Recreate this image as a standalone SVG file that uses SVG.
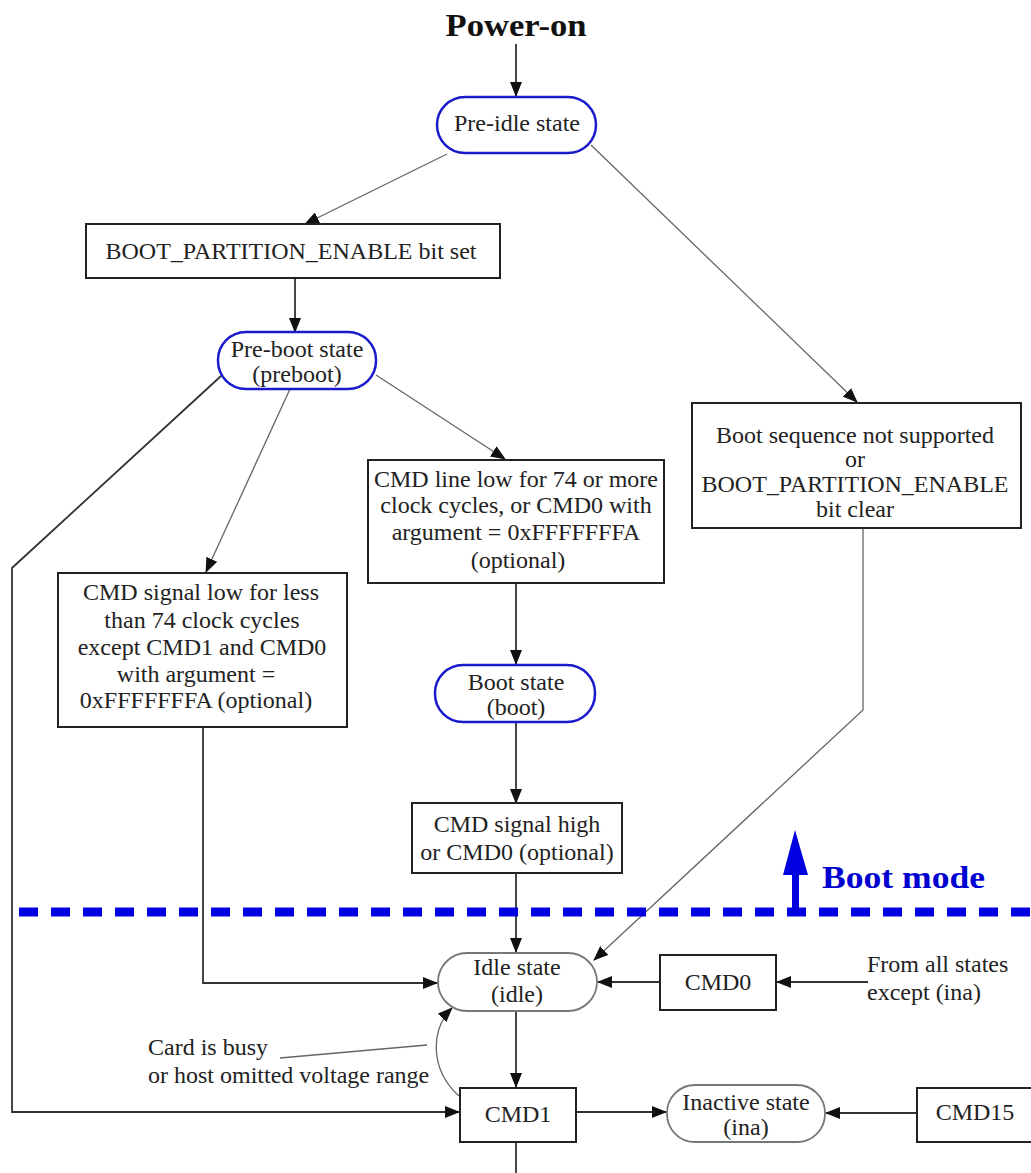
<svg xmlns="http://www.w3.org/2000/svg" width="1031" height="1173" viewBox="0 0 1031 1173">
<defs>
<marker id="ah" markerWidth="15" markerHeight="12" refX="14" refY="6" orient="auto" markerUnits="userSpaceOnUse">
<path d="M0,0 L15,6 L0,12 Z" fill="#111"/>
</marker>
<style>
.t{font-family:"Liberation Serif","Times New Roman",serif;font-size:24px;fill:#222;text-anchor:middle}
.tl{font-family:"Liberation Serif","Times New Roman",serif;font-size:24px;fill:#222}
.box{fill:#fff;stroke:#222;stroke-width:2}
.st{fill:#fff;stroke:#1a1acc;stroke-width:2.5}
.sg{fill:#fff;stroke:#777;stroke-width:1.8}
.c{fill:none;stroke:#333;stroke-width:1.8}
.thin{fill:none;stroke:#666;stroke-width:1.3}
</style>
</defs>
<rect width="1031" height="1173" fill="#fff"/>
<text x="516" y="36" textLength="141" lengthAdjust="spacingAndGlyphs" style="font-family:'Liberation Serif',serif;font-size:32px;font-weight:bold;fill:#111;text-anchor:middle">Power-on</text>

<g id="connectors">
<line class="c" x1="516" y1="44" x2="516" y2="96" marker-end="url(#ah)"/>
<line class="thin" x1="447" y1="154" x2="305" y2="224" marker-end="url(#ah)"/>
<line class="c" x1="295" y1="278" x2="295" y2="332" marker-end="url(#ah)"/>
<line class="thin" x1="591" y1="145" x2="857" y2="402" marker-end="url(#ah)"/>
<polyline class="c" points="221,376 12,568 12,1112 459,1112" marker-end="url(#ah)"/>
<line class="thin" x1="290" y1="389" x2="206" y2="572" marker-end="url(#ah)"/>
<line class="thin" x1="376" y1="375" x2="505" y2="459" marker-end="url(#ah)"/>
<line class="c" x1="516" y1="583" x2="516" y2="664" marker-end="url(#ah)"/>
<line class="c" x1="516" y1="722" x2="516" y2="803" marker-end="url(#ah)"/>
<line class="c" x1="516" y1="873" x2="516" y2="952" marker-end="url(#ah)"/>
<polyline class="thin" points="863,528 863,710 594,960" marker-end="url(#ah)"/>
<polyline class="c" points="203,727 203,983 437,983" marker-end="url(#ah)"/>
<line class="c" x1="660" y1="982" x2="598" y2="982" marker-end="url(#ah)"/>
<line class="c" x1="868" y1="982" x2="777" y2="982" marker-end="url(#ah)"/>
<line class="c" x1="516" y1="1011" x2="516" y2="1087" marker-end="url(#ah)"/>
<path class="thin" d="M459,1096 C430,1070 430,1030 452,1008" marker-end="url(#ah)"/>
<line class="thin" x1="280" y1="1058" x2="427" y2="1045"/>
<line class="c" x1="576" y1="1112" x2="666" y2="1112" marker-end="url(#ah)"/>
<line class="c" x1="917" y1="1113" x2="826" y2="1113" marker-end="url(#ah)"/>
<line class="c" x1="516" y1="1142" x2="516" y2="1173"/>
</g>

<g id="boot-mode">
<line x1="12" y1="912" x2="1031" y2="912" stroke="#0000e0" stroke-width="9" stroke-dasharray="19,13" stroke-dashoffset="-7"/>
<rect x="792" y="872" width="7" height="40" fill="#0000e0"/>
<path d="M783,875 L795,830 L808,875 Z" fill="#0000e0"/>
<text x="822" y="888" textLength="163" lengthAdjust="spacingAndGlyphs" style="font-family:'Liberation Serif',serif;font-size:32px;font-weight:bold;fill:#0000d0">Boot mode</text>
</g>

<g id="pre-idle">
<rect class="st" x="437" y="97" width="159" height="56" rx="28"/>
<text class="t" x="517" y="131">Pre-idle state</text>
</g>
<g id="bpe-set">
<rect class="box" x="86" y="224" width="414" height="54"/>
<text class="t" x="291" y="259">BOOT_PARTITION_ENABLE bit set</text>
</g>
<g id="pre-boot">
<rect class="st" x="218" y="332" width="158" height="57" rx="28"/>
<text class="t" x="297" y="357">Pre-boot state</text>
<text class="t" x="297" y="382">(preboot)</text>
</g>
<g id="boot-not-supported">
<rect class="box" x="692" y="403" width="329" height="125"/>
<text class="t" x="855" y="443">Boot sequence not supported</text>
<text class="t" x="855" y="467">or</text>
<text class="t" x="855" y="492">BOOT_PARTITION_ENABLE</text>
<text class="t" x="855" y="517">bit clear</text>
</g>
<g id="cmd-line-low">
<rect class="box" x="368" y="460" width="296" height="123"/>
<text class="t" x="516" y="487">CMD line low for 74 or more</text>
<text class="t" x="516" y="513">clock cycles, or CMD0 with</text>
<text class="t" x="516" y="540">argument = 0xFFFFFFFA</text>
<text class="t" x="518" y="568">(optional)</text>
</g>
<g id="cmd-signal-low">
<rect class="box" x="58" y="573" width="289" height="154"/>
<text class="t" x="201" y="600">CMD signal low for less</text>
<text class="t" x="202" y="628">than 74 clock cycles</text>
<text class="t" x="202" y="655">except CMD1 and CMD0</text>
<text class="t" x="196" y="682">with argument =</text>
<text class="t" x="196" y="708">0xFFFFFFFA (optional)</text>
</g>
<g id="boot-state">
<rect class="st" x="435" y="665" width="160" height="57" rx="28"/>
<text class="t" x="516" y="690">Boot state</text>
<text class="t" x="516" y="715">(boot)</text>
</g>
<g id="cmd-signal-high">
<rect class="box" x="412" y="803" width="210" height="70"/>
<text class="t" x="517" y="832">CMD signal high</text>
<text class="t" x="517" y="860">or CMD0 (optional)</text>
</g>
<g id="idle-state">
<rect class="sg" x="438" y="953" width="159" height="58" rx="29"/>
<text class="t" x="517" y="975">Idle state</text>
<text class="t" x="517" y="1002">(idle)</text>
</g>
<g id="cmd0">
<rect class="box" x="660" y="955" width="116" height="55"/>
<text class="t" x="718" y="990">CMD0</text>
</g>
<text class="tl" x="867" y="972">From all states</text>
<text class="tl" x="867" y="1000">except (ina)</text>
<text class="tl" x="148" y="1055">Card is busy</text>
<text class="tl" x="148" y="1083">or host omitted voltage range</text>
<g id="cmd1">
<rect class="box" x="460" y="1088" width="116" height="54"/>
<text class="t" x="518" y="1122">CMD1</text>
</g>
<g id="inactive-state">
<rect class="sg" x="667" y="1085" width="158" height="57" rx="28"/>
<text class="t" x="746" y="1110">Inactive state</text>
<text class="t" x="746" y="1135">(ina)</text>
</g>
<g id="cmd15">
<rect class="box" x="917" y="1088" width="120" height="54"/>
<text class="t" x="975" y="1120">CMD15</text>
</g>
</svg>
